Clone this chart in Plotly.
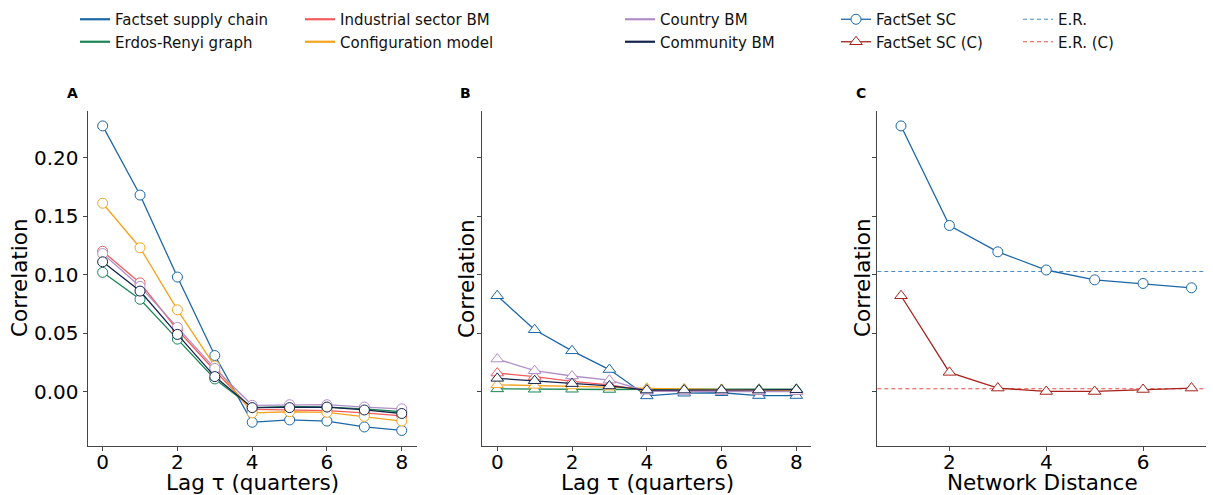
import plotly.graph_objects as go

W, H = 1213, 495

# ---------------- data ----------------
lags = [0, 1, 2, 3, 4, 5, 6, 7, 8]

factset = [0.227, 0.168, 0.098, 0.031, -0.026, -0.024, -0.025, -0.030, -0.033]
erdos = [0.102, 0.079, 0.045, 0.011, -0.0135, -0.0125, -0.013, -0.0145, -0.017]
industrial = [0.120, 0.093, 0.053, 0.018, -0.015, -0.0155, -0.016, -0.018, -0.0205]
configuration = [0.161, 0.123, 0.070, 0.022, -0.018, -0.017, -0.0175, -0.021, -0.025]
country = [0.118, 0.090, 0.055, 0.020, -0.0115, -0.011, -0.011, -0.013, -0.0145]
community = [0.111, 0.086, 0.049, 0.013, -0.0135, -0.0135, -0.013, -0.0155, -0.0185]

factset_c = [0.082, 0.053, 0.035, 0.019, -0.0035, -0.0012, -0.0008, -0.0032, -0.0032]
erdos_c = [0.0025, 0.0022, 0.0022, 0.002, 0.0022, 0.002, 0.002, 0.0022, 0.0022]
industrial_c = [0.016, 0.013, 0.009, 0.006, 0.001, 0.0008, 0.0005, 0.0003, 0.0003]
configuration_c = [0.006, 0.0055, 0.005, 0.004, 0.003, 0.0025, 0.002, 0.0015, 0.001]
country_c = [0.028, 0.018, 0.0135, 0.010, 0.0005, 0.0003, 0.0003, 0.0002, 0.0002]
community_c = [0.0115, 0.0095, 0.007, 0.005, 0.0015, 0.0015, 0.0015, 0.0015, 0.0018]

distances = [1, 2, 3, 4, 5, 6, 7]
sc_dist = [0.227, 0.142, 0.1195, 0.104, 0.0956, 0.0925, 0.0888]
sc_dist_c = [0.082, 0.0166, 0.0032, 0.0003, 0.0003, 0.002, 0.0032]
er_level = 0.1027
er_level_c = 0.0026

series_names = ["Factset supply chain", "Erdos-Renyi graph", "Industrial sector BM",
                "Configuration model", "Country BM", "Community BM"]
series_colors = ["#1c67a8", "#1a8656", "#f25c5c", "#f5a31c", "#b28dc6", "#15244d"]
series_a = [factset, erdos, industrial, configuration, country, community]
series_b = [factset_c, erdos_c, industrial_c, configuration_c, country_c, community_c]

y_ticks = [0.0, 0.05, 0.10, 0.15, 0.20]
y_range = [-0.046, 0.240]

SC_C_COLOR = "#a6231b"
ER_COLOR = "#4f8cc4"
ER_C_COLOR = "#f04a4a"

FONT = "DejaVu Sans"
AX_COLOR = "#454545"

# ---------------- geometry (pixels) ----------------
def px_x(p):
    return p / W

def px_y(p):
    return 1 - p / H

y_dom = [px_y(445.7), px_y(110.7)]
x_doms = [[px_x(87.7), px_x(416.7)], [px_x(482.3), px_x(811.3)], [px_x(877.3), px_x(1206)]]

fig = go.Figure()

# panel A
for name, col, vals in zip(series_names, series_colors, series_a):
    fig.add_trace(go.Scatter(
        x=lags, y=vals, mode="lines+markers", xaxis="x", yaxis="y",
        line=dict(color=col, width=1.3),
        marker=dict(symbol="circle", size=10, color="white", line=dict(color=col, width=1)),
        showlegend=False, name=name))

# panel B
for name, col, vals in zip(series_names, series_colors, series_b):
    fig.add_trace(go.Scatter(
        x=lags, y=vals, mode="lines+markers", xaxis="x2", yaxis="y2",
        line=dict(color=col, width=1.3),
        marker=dict(symbol="triangle-up", size=11, color="white", line=dict(color=col, width=1)),
        showlegend=False, name=name))

# panel C
fig.add_trace(go.Scatter(
    x=distances, y=sc_dist, mode="lines+markers", xaxis="x3", yaxis="y3",
    line=dict(color=series_colors[0], width=1.3),
    marker=dict(symbol="circle", size=10, color="white", line=dict(color=series_colors[0], width=1)),
    name="FactSet SC", legend="legend4"))
fig.add_trace(go.Scatter(
    x=distances, y=sc_dist_c, mode="lines+markers", xaxis="x3", yaxis="y3",
    line=dict(color=SC_C_COLOR, width=1.3),
    marker=dict(symbol="triangle-up", size=11, color="white", line=dict(color=SC_C_COLOR, width=1)),
    name="FactSet SC (C)", legend="legend4"))

for lvl, col in [(er_level, ER_COLOR), (er_level_c, ER_C_COLOR)]:
    fig.add_shape(type="line", xref="x3 domain", yref="y3", x0=0, x1=1, y0=lvl, y1=lvl,
                  line=dict(color=col, width=1.1, dash="4px,3px"), layer="below")

# legend-only entries
legend_ids = ["legend", "legend", "legend2", "legend2", "legend3", "legend3"]
for name, col, lg in zip(series_names, series_colors, legend_ids):
    fig.add_trace(go.Scatter(x=[None], y=[None], mode="lines", xaxis="x", yaxis="y",
                             line=dict(color=col, width=2.2), name=name, legend=lg))
fig.add_trace(go.Scatter(x=[None], y=[None], mode="lines", xaxis="x3", yaxis="y3",
                         line=dict(color=ER_COLOR, width=1.1, dash="4px,3px"), name="E.R.", legend="legend5"))
fig.add_trace(go.Scatter(x=[None], y=[None], mode="lines", xaxis="x3", yaxis="y3",
                         line=dict(color=ER_C_COLOR, width=1.1, dash="4px,3px"), name="E.R. (C)", legend="legend5"))

leg_common = dict(font=dict(family=FONT, size=15, color="#111"), bgcolor="rgba(0,0,0,0)",
                  borderwidth=0, yanchor="top", xanchor="left", orientation="v",
                  itemclick=False, itemdoubleclick=False, tracegroupgap=0)
leg_x = [75, 300, 620, 836, 1018]
leg_keys = ["legend", "legend2", "legend3", "legend4", "legend5"]
leg_layout = {k: dict(leg_common, x=px_x(xp), y=px_y(3)) for k, xp in zip(leg_keys, leg_x)}

tick_font = dict(family=FONT, size=20, color="black")

def xaxis(dom, anchor, tickvals, rng):
    return dict(domain=dom, anchor=anchor, range=rng, tickvals=tickvals, showline=True,
                linecolor=AX_COLOR, linewidth=1.3, ticks="outside", ticklen=4, tickcolor=AX_COLOR,
                tickfont=tick_font, showgrid=False, zeroline=False, automargin=False, mirror=False,
                ticklabelstandoff=-6)

def yaxis(anchor, labels):
    return dict(domain=y_dom, anchor=anchor, range=y_range, tickvals=y_ticks, tickformat=".2f",
                showticklabels=labels, showline=True, linecolor=AX_COLOR, linewidth=1.3,
                ticks="outside", ticklen=4, tickcolor=AX_COLOR, tickfont=tick_font,
                showgrid=False, zeroline=False, automargin=False, mirror=False)

annotations = []
def ann(text, xp, yp, size=21.5, angle=0, bold=False):
    annotations.append(dict(text=f"<b>{text}</b>" if bold else text, x=px_x(xp), y=px_y(yp),
                            xref="paper", yref="paper", showarrow=False, textangle=angle,
                            xanchor="center", yanchor="middle",
                            font=dict(family=FONT, size=size, color="black")))

ann("Correlation", 19, 278, angle=-90)
ann("Correlation", 466, 278, angle=-90)
ann("Correlation", 862, 278, angle=-90)
ann("Lag τ (quarters)", 252, 482)
ann("Lag τ (quarters)", 647, 482)
ann("Network Distance", 1042, 482)
ann("A", 72, 93, size=14, bold=True)
ann("B", 466, 93, size=14, bold=True)
ann("C", 861, 93, size=14, bold=True)

fig.update_layout(
    width=W, height=H, template="none",
    margin=dict(l=0, r=0, t=0, b=0, pad=0),
    paper_bgcolor="white", plot_bgcolor="white",
    font=dict(family=FONT),
    xaxis=xaxis(x_doms[0], "y", [0, 2, 4, 6, 8], [-0.4, 8.4]),
    xaxis2=xaxis(x_doms[1], "y2", [0, 2, 4, 6, 8], [-0.4, 8.4]),
    xaxis3=xaxis(x_doms[2], "y3", [2, 4, 6], [0.51, 7.3]),
    yaxis=yaxis("x", True),
    yaxis2=yaxis("x2", False),
    yaxis3=yaxis("x3", False),
    annotations=annotations,
    **leg_layout,
)

fig.write_html("out.html", config={"displayModeBar": False},
               post_script="document.body.style.margin='0';document.body.style.padding='0';"
                           "document.body.style.overflow='hidden';")
